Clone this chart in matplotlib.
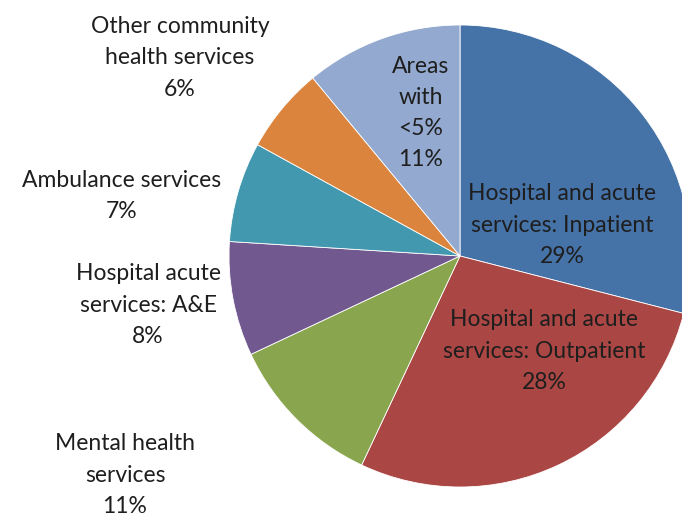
import matplotlib.pyplot as plt

# slices clockwise from 12 o'clock
categories = [
    "Hospital and acute\nservices: Inpatient",
    "Hospital and acute\nservices: Outpatient",
    "Mental health\nservices",
    "Hospital acute\nservices: A&E",
    "Ambulance services",
    "Other community\nhealth services",
    "Areas\nwith\n<5%",
]
shares = [29, 28, 11, 8, 7, 6, 11]
colors = ["#4572A7", "#AA4643", "#89A54E", "#71588F", "#4198AF", "#DB843D", "#93A9CF"]

# label centres in pixels (x from left, y from top) of the 682x516 image
label_px = [(562, 225), (544, 351), (125, 475), (148, 305), (122, 196), (180, 58), (421, 113)]

W, H = 682, 516
cx, cy, r = 460, 256, 231

fig = plt.figure(figsize=(W / 100, H / 100), dpi=100)
ax = fig.add_axes([(cx - r) / W, (H - cy - r) / H, 2 * r / W, 2 * r / H])
ax.pie(shares, colors=colors, startangle=90, counterclock=False, radius=1,
       wedgeprops=dict(edgecolor="white", linewidth=0.6))
ax.set_xlim(-1, 1)
ax.set_ylim(-1, 1)
ax.set_aspect("auto")
ax.axis("off")

for name, val, (px, py) in zip(categories, shares, label_px):
    x = (px - cx) / r
    y = (cy - py) / r
    ax.text(x, y, f"{name}\n{val}%", ha="center", va="center", fontsize=16.5,
            family="Lato", color="#1e1e1e", linespacing=1.6, clip_on=False)

fig.savefig("out.png", dpi=100)
